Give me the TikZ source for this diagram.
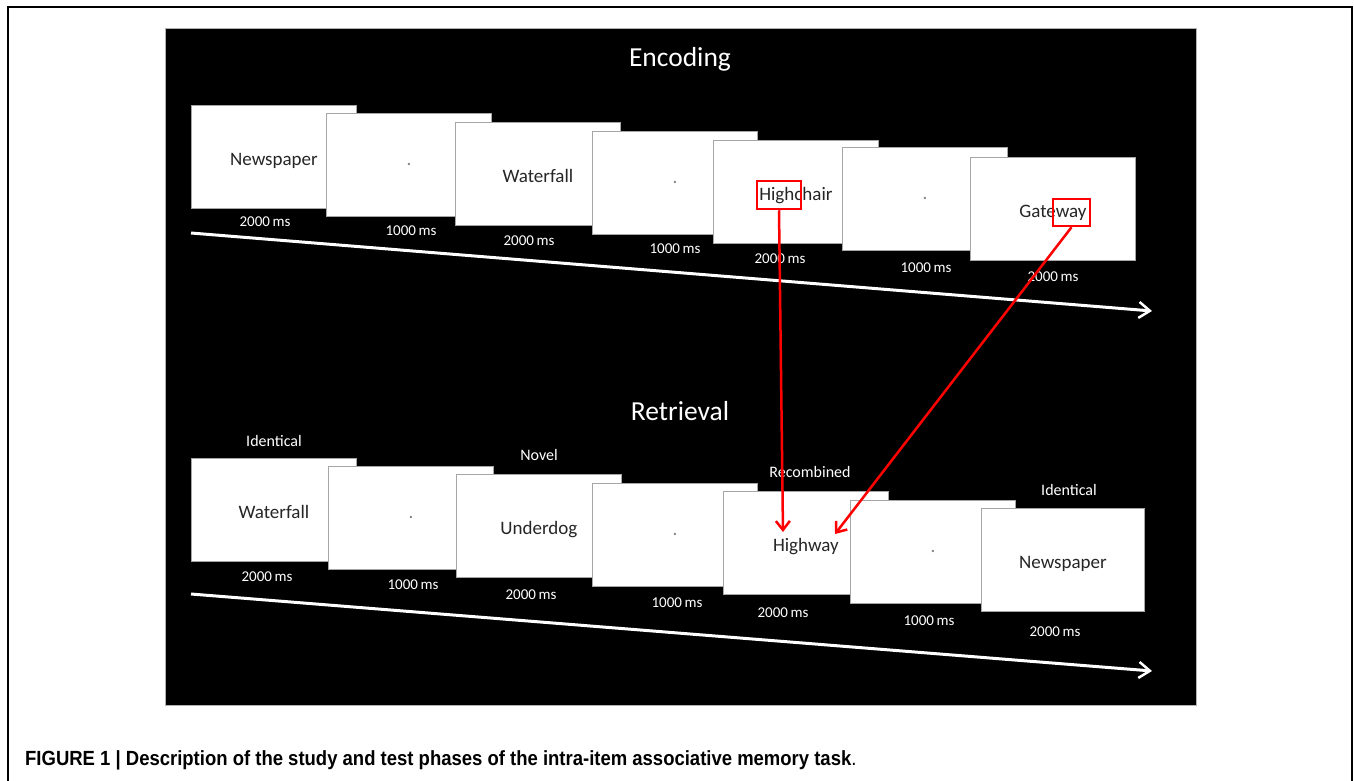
\documentclass[tikz,border=0pt]{standalone}
\usepackage{fontspec}
\setmainfont{Carlito}
\newfontfamily\capfont{Liberation Sans}
\usetikzlibrary{arrows.meta}
\begin{document}
\begin{tikzpicture}[x=1pt,y=-1pt,
  slide/.style={draw=gray!70, line width=0.8pt, fill=white, minimum width=165pt, minimum height=103pt, inner sep=0pt, anchor=north west, font=\fontsize{19}{22}\selectfont, text=black!85},
  wordslide/.style={slide, text height=17pt, text depth=0pt},
  tlabel/.style={text=white, font=\fontsize{15}{18}\selectfont, inner sep=0pt},
  cond/.style={text=white, font=\fontsize{16}{19}\selectfont, inner sep=0pt},
  ttl/.style={text=white, font=\fontsize{27.5}{32}\selectfont, inner sep=0pt},
  timeline/.style={draw=white, line width=3pt, -{Straight Barb[length=11pt,width=16pt,line width=2.5pt]}},
  redbox/.style={draw=red, line width=2.5pt, inner sep=0pt, fill=none},
  redarrow/.style={draw=red, line width=2.5pt, -{Straight Barb[length=9pt,width=14pt,line width=2.5pt]}}
]
\useasboundingbox (0,0) rectangle (1354,781);
\fill[white] (0,0) rectangle (1354,781);
% outer frame
\draw[line width=1.2pt] (8,781) -- (8,7) -- (1352,7) -- (1352,781);
% black panel
\filldraw[fill=black, draw=gray!60, line width=0.8pt] (165,28) rectangle (1196,705);

% titles
\node[ttl] (enc) at (680,59) {Encoding};
\node[ttl] (ret) at (680,411) {Retrieval};

% encoding slides
\node[wordslide] (e1) at (191,105) {Newspaper};
\node[slide] (e2) at (326,113) {\textcolor{gray}{.}};
\node[wordslide] (e3) at (455,122) {Waterfall};
\node[slide] (e4) at (592,131) {\textcolor{gray}{.}};
\node[wordslide] (e5) at (713,140) {Highchair};
\node[slide] (e6) at (842,147) {\textcolor{gray}{.}};
\node[wordslide] (e7) at (970,157) {Gateway};

% encoding times
\node[tlabel] (et1) at (265,222) {2000\,ms};
\node[tlabel] (et2) at (411,231) {1000\,ms};
\node[tlabel] (et3) at (529,241) {2000\,ms};
\node[tlabel] (et4) at (675,249) {1000\,ms};
\node[tlabel] (et5) at (780,259) {2000\,ms};
\node[tlabel] (et6) at (926,268) {1000\,ms};
\node[tlabel] (et7) at (1053,277) {2000\,ms};

% encoding timeline
\coordinate (ea) at (191,233);
\coordinate (eb) at (1152,311);
\draw[timeline] (ea) -- (eb);

% retrieval condition labels
\node[cond] (c1) at (274,441) {Identical};
\node[cond] (c2) at (539,455) {Novel};
\node[cond] (c3) at (810,472) {Recombined};
\node[cond] (c4) at (1069,490) {Identical};

% retrieval slides
\node[wordslide] (r1) at (191,458) {Waterfall};
\node[slide] (r2) at (328,466) {\textcolor{gray}{.}};
\node[wordslide] (r3) at (456,474) {Underdog};
\node[slide] (r4) at (592,483) {\textcolor{gray}{.}};
\node[wordslide] (r5) at (723,491) {Highway};
\node[slide] (r6) at (850,500) {\textcolor{gray}{.}};
\node[wordslide, minimum width=163pt] (r7) at (981,508) {Newspaper};

% retrieval times
\node[tlabel] (rt1) at (267,577) {2000\,ms};
\node[tlabel] (rt2) at (413,585) {1000\,ms};
\node[tlabel] (rt3) at (531,595) {2000\,ms};
\node[tlabel] (rt4) at (677,603) {1000\,ms};
\node[tlabel] (rt5) at (783,613) {2000\,ms};
\node[tlabel] (rt6) at (929,621) {1000\,ms};
\node[tlabel] (rt7) at (1055,632) {2000\,ms};

% retrieval timeline
\coordinate (ra) at (191,594);
\coordinate (rb) at (1152,671);
\draw[timeline] (ra) -- (rb);

% red boxes and arrows
\node[redbox, minimum width=44pt, minimum height=28pt] (hbox) at (779,195) {};
\node[redbox, minimum width=37pt, minimum height=27pt] (gbox) at (1071.5,212.5) {};
\coordinate (t1) at (783,532);
\coordinate (t2) at (835,534);
\draw[redarrow] (hbox.south) -- (t1);
\draw[redarrow] (gbox.south) -- (t2);

% caption
\node[anchor=base west, inner sep=0pt] (cap) at (25,765) {\scalebox{0.902}[1]{\capfont\fontsize{20.5}{24}\selectfont\bfseries FIGURE 1 | Description of the study and test phases of the intra-item associative memory task\mdseries.}};
\end{tikzpicture}
\end{document}
